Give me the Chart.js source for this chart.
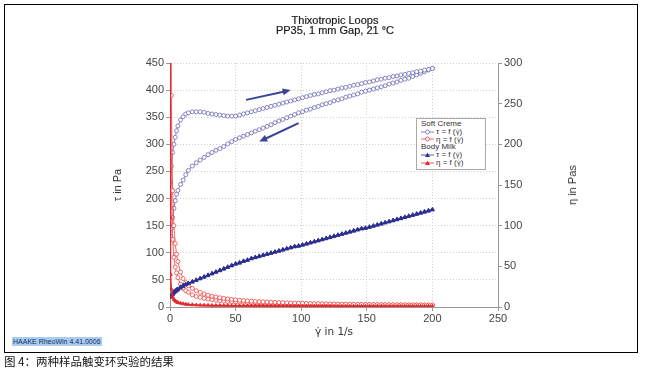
<!DOCTYPE html>
<html>
<head>
<meta charset="utf-8">
<script src="https://cdn.jsdelivr.net/npm/chart.js@4.4.1/dist/chart.umd.min.js"></script>
<style>
  body { margin: 0; width: 647px; height: 369px; position: relative; background: #fff; font-family: "Liberation Sans", Arial, sans-serif; overflow: hidden; }
  #frame { position: absolute; left: 4px; top: 4px; width: 634px; height: 349px; border: 1px solid #000; box-sizing: border-box; }
  #box { position: absolute; left: 0; top: 0; width: 647px; height: 369px; }
  #title { position: absolute; left: 235px; top: 15px; width: 200px; text-align: center; font-size: 11px; line-height: 10px; color: #1a1a1a; -webkit-text-stroke: 0.2px #1a1a1a; }
  #ytitle2 { position: absolute; left: 572px; top: 185px; font-size: 11px; color: #333; white-space: nowrap; transform: translate(-50%, -50%) rotate(-90deg); }
  #legend { position: absolute; left: 416px; top: 118px; width: 70px; height: 52px; border: 1px solid #aaa; box-sizing: border-box; background: #fff; font-size: 8px; line-height: 7.8px; color: #333; padding: 1px 0 0 4px; }
  #legend div { white-space: nowrap; height: 7.8px; }
  #legend .g { font-family: "DejaVu Sans", sans-serif; font-size: 7px; }
  #legend svg { vertical-align: middle; margin-right: 2px; }
  #haake { position: absolute; left: 12px; top: 337px; font-size: 7px; line-height: 9px; background: #a9cdf0; color: #1a2a5a; padding: 0 1px; }
  #caption { position: absolute; left: 4px; top: 354px; font-size: 11.5px; line-height: 14px; color: #111; font-family: "Noto Sans CJK SC", sans-serif; }
</style>
</head>
<body>
<div id="frame"></div>
<div id="box"><canvas id="c"></canvas></div>
<div id="title">Thixotropic Loops<br>PP35, 1 mm Gap, 21 °C</div>
<div id="ytitle2">η in Pas</div>
<div id="legend">
  <div>Soft Creme</div>
  <div><svg width="13" height="6"><line x1="0" y1="3" x2="13" y2="3" stroke="#6a6ab5" stroke-width="0.8"/><circle cx="6.5" cy="3" r="2" fill="#fff" stroke="#6a6ab5" stroke-width="0.8"/></svg>τ = f (<span class="g">γ̇</span>)</div>
  <div><svg width="13" height="6"><line x1="0" y1="3" x2="13" y2="3" stroke="#ee4444" stroke-width="0.8"/><circle cx="6.5" cy="3" r="2" fill="#fff" stroke="#ee4444" stroke-width="0.8"/></svg>η = f (<span class="g">γ̇</span>)</div>
  <div>Body Milk</div>
  <div><svg width="13" height="6"><line x1="0" y1="3" x2="13" y2="3" stroke="#2d2f8e" stroke-width="0.8"/><polygon points="6.5,0.5 9,5 4,5" fill="#2d2f8e"/></svg>τ = f (<span class="g">γ̇</span>)</div>
  <div><svg width="13" height="6"><line x1="0" y1="3" x2="13" y2="3" stroke="#e8262b" stroke-width="0.8"/><polygon points="6.5,0.5 9,5 4,5" fill="#e8262b"/></svg>η = f (<span class="g">γ̇</span>)</div>
</div>
<div id="haake">HAAKE RheoWin 4.41.0006</div>
<div id="caption">图 4：两种样品触变环实验的结果</div>

<script>
// shear rate grid (1/s)
const gamma = [0.5, 1, 2, 3, 4, 5, 6, 8, 10, 12, 14,
  17, 20, 23, 26, 29, 32, 35, 38, 41, 44, 47,
  50, 53, 56, 59, 62, 65, 68, 71, 74, 77, 80,
  83, 86, 89, 92, 95, 98, 101, 104, 107, 110, 113,
  116, 119, 122, 125, 128, 131, 134, 137, 140, 143, 146,
  149, 152, 155, 158, 161, 164, 167, 170, 173, 176, 179,
  182, 185, 188, 191, 194, 197, 200];
// extra points very close to zero shear for the viscosity curves
const gammaNearZero = [0.05, 0.2];

// Soft Creme, shear stress (Pa)
const softTauUp = [230, 260, 285, 300, 313, 325, 334, 345, 351, 356, 358,
  360, 360, 360, 359, 357, 356, 355, 354, 353, 352, 352,
  352, 354, 356, 358, 360, 362, 364, 366, 368, 370, 372,
  374, 376, 378, 380, 382, 384, 386, 388, 390, 392, 393,
  395, 397, 399, 400, 402, 404, 405, 407, 409, 410, 412,
  414, 415, 417, 419, 420, 422, 423, 425, 426, 428, 429,
  431, 432, 434, 435, 437, 438, 440];
const softTauDown = [130, 145, 165, 182, 196, 208, 215, 226, 234, 244, 252,
  260, 266, 271, 276, 281, 285, 289, 292, 296, 301, 305,
  309, 312, 315, 318, 321, 324, 327, 330, 333, 336, 340,
  343, 346, 349, 352, 355, 358, 360, 363, 365, 368, 370,
  373, 375, 377, 380, 382, 384, 387, 389, 391, 393, 396,
  398, 400, 402, 404, 406, 408, 411, 413, 415, 418, 420,
  422, 425, 428, 431, 434, 437, 440];
// Soft Creme, viscosity (Pas), first two values belong to gammaNearZero
const softEtaUp = [2000, 1000,
  460, 260, 143, 100, 78, 65, 56, 43, 35, 30, 26,
  23, 20, 18, 16, 14.5, 13.3, 12.3, 11.4, 10.6, 9.9, 9.3,
  8.8, 8.3, 7.9, 7.5, 7.2, 6.9, 6.6, 6.3, 6.1, 5.9, 5.7,
  5.5, 5.3, 5.1, 5.0, 4.8, 4.7, 4.6, 4.4, 4.3, 4.2, 4.1,
  4.0, 3.9, 3.8, 3.7, 3.6, 3.5, 3.5, 3.4, 3.3, 3.3, 3.2,
  3.1, 3.1, 3.0, 3.0, 2.9, 2.9, 2.8, 2.8, 2.7, 2.7, 2.7,
  2.6, 2.6, 2.5, 2.5, 2.5, 2.4, 2.4];
const softEtaDown = [2000, 600,
  260, 145, 83, 61, 49, 42, 36, 28, 23, 20, 18,
  15, 13, 11.8, 10.6, 9.7, 8.9, 8.3, 7.7, 7.2, 6.8, 6.5,
  6.2, 5.9, 5.6, 5.4, 5.2, 5.0, 4.8, 4.6, 4.5, 4.4, 4.2,
  4.1, 4.0, 3.9, 3.8, 3.7, 3.7, 3.6, 3.5, 3.4, 3.3, 3.3,
  3.2, 3.2, 3.1, 3.0, 3.0, 2.9, 2.9, 2.8, 2.8, 2.8, 2.7,
  2.7, 2.6, 2.6, 2.6, 2.5, 2.5, 2.5, 2.4, 2.4, 2.4, 2.3,
  2.3, 2.3, 2.3, 2.3, 2.2, 2.2, 2.2];

// Body Milk, shear stress (Pa)
const milkTauUp = [20, 22, 25, 28, 30, 32, 33, 37, 40, 42, 44,
  47, 50, 53, 56, 59, 62, 65, 68, 71, 74, 77,
  80, 82, 85, 87, 90, 92, 94, 96, 98, 100, 102,
  104, 106, 108, 110, 112, 113, 115, 117, 119, 121, 123,
  125, 127, 129, 131, 133, 135, 137, 139, 141, 143, 145,
  146, 148, 150, 152, 154, 156, 158, 160, 162, 164, 166,
  168, 170, 172, 174, 176, 178, 180];
const milkTauDown = [18, 20, 23, 26, 28, 30, 32, 35, 38, 41, 43,
  46, 49, 52, 55, 58, 61, 64, 67, 70, 73, 76,
  79, 81, 84, 86, 89, 91, 93, 95, 97, 99, 101,
  103, 105, 107, 109, 111, 112, 114, 116, 118, 120, 122,
  124, 126, 128, 130, 132, 134, 136, 138, 140, 142, 144,
  145, 147, 149, 151, 153, 155, 157, 159, 161, 163, 165,
  167, 169, 171, 173, 175, 177, 179];
// Body Milk, viscosity (Pas), first two values belong to gammaNearZero
const milkEta = [1500, 110,
  40, 22, 12.5, 9.3, 7.5, 6.4, 5.5, 4.6, 4.0, 3.5, 3.1,
  2.8, 2.5, 2.3, 2.2, 2.0, 1.9, 1.9, 1.8, 1.7, 1.7, 1.6,
  1.6, 1.5, 1.5, 1.5, 1.4, 1.4, 1.4, 1.4, 1.3, 1.3, 1.3,
  1.3, 1.2, 1.2, 1.2, 1.2, 1.2, 1.1, 1.1, 1.1, 1.1, 1.1,
  1.1, 1.1, 1.1, 1.0, 1.0, 1.0, 1.0, 1.0, 1.0, 1.0, 1.0,
  1.0, 1.0, 1.0, 1.0, 1.0, 0.9, 0.9, 0.9, 0.9, 0.9, 0.9,
  0.9, 0.9, 0.9, 0.9, 0.9, 0.9, 0.9];

// direction arrows (gamma, tau)
const arrowFrom = [[58, 382], [98, 339]];
const arrowTo = [[92, 400], [68, 305]];

const xTicks = [0, 50, 100, 150, 200, 250];

function pts(xs, ys) {
  return ys.map((y, i) => ({ x: xs[i], y: y }));
}
const gammaEta = gammaNearZero.concat(gamma);

const softBlue = '#6a6ab5';
const softRed = '#ee4444';
const milkBlue = '#2d2f8e';
const milkRed = '#e8262b';

function series(data, color, axis, style, filled, r, lw) {
  return {
    data: data,
    yAxisID: axis,
    showLine: true,
    borderColor: color,
    borderWidth: lw,
    pointStyle: style,
    pointRadius: r,
    pointBorderWidth: 0.8,
    pointBorderColor: color,
    pointBackgroundColor: filled ? color : '#fff',
    clip: 0
  };
}

const arrowPlugin = {
  id: 'arrows',
  afterDatasetsDraw(chart) {
    const ctx = chart.ctx, x = chart.scales.x, y = chart.scales.y;
    ctx.save();
    ctx.strokeStyle = '#3e4296';
    ctx.fillStyle = '#3e4296';
    ctx.lineWidth = 2;
    for (let i = 0; i < arrowFrom.length; i++) {
      const x1 = x.getPixelForValue(arrowFrom[i][0]), y1 = y.getPixelForValue(arrowFrom[i][1]);
      const x2 = x.getPixelForValue(arrowTo[i][0]), y2 = y.getPixelForValue(arrowTo[i][1]);
      const a = Math.atan2(y2 - y1, x2 - x1);
      ctx.beginPath();
      ctx.moveTo(x1, y1);
      ctx.lineTo(x2 - 5 * Math.cos(a), y2 - 5 * Math.sin(a));
      ctx.stroke();
      ctx.beginPath();
      ctx.moveTo(x2, y2);
      ctx.lineTo(x2 - 8 * Math.cos(a) + 3.5 * Math.sin(a), y2 - 8 * Math.sin(a) - 3.5 * Math.cos(a));
      ctx.lineTo(x2 - 8 * Math.cos(a) - 3.5 * Math.sin(a), y2 - 8 * Math.sin(a) + 3.5 * Math.cos(a));
      ctx.closePath();
      ctx.fill();
    }
    ctx.restore();
  }
};

const tickFont = { family: 'Liberation Sans, Arial', size: 11 };

new Chart(document.getElementById('c'), {
  type: 'scatter',
  data: {
    datasets: [
      series(pts(gammaEta, milkEta), milkRed, 'y2', 'triangle', true, 2, 1.5),
      series(pts(gamma, milkTauUp), milkBlue, 'y', 'triangle', true, 2.2, 1),
      series(pts(gamma, milkTauDown), milkBlue, 'y', 'triangle', true, 2.2, 1),
      series(pts(gammaEta, softEtaUp), softRed, 'y2', 'circle', false, 2, 0.8),
      series(pts(gammaEta, softEtaDown), softRed, 'y2', 'circle', false, 2, 0.8),
      series(pts(gamma, softTauUp), softBlue, 'y', 'circle', false, 2, 0.8),
      series(pts(gamma, softTauDown), softBlue, 'y', 'circle', false, 2, 0.8)
    ]
  },
  options: {
    responsive: true,
    maintainAspectRatio: false,
    animation: false,
    layout: { padding: { left: 111, right: 69, top: 63, bottom: 30 } },
    plugins: { legend: { display: false }, tooltip: { enabled: false } },
    scales: {
      x: {
        type: 'linear', min: 0, max: 250,
        afterBuildTicks: s => { s.ticks = xTicks.map(v => ({ value: v })); },
        afterFit: s => { s.height = 32; },
        ticks: { font: tickFont, color: '#444', padding: 1, maxRotation: 0 },
        grid: { color: '#cfcfcf', tickLength: 4, tickColor: '#999' },
        border: { color: '#999', dash: [1, 2] },
        title: { display: true, text: 'γ̇ in 1/s', font: { family: 'DejaVu Sans', size: 10.5 }, color: '#333', padding: 0 }
      },
      y: {
        position: 'left', min: 0, max: 450,
        afterFit: s => { s.width = 59; },
        ticks: { stepSize: 50, font: tickFont, color: '#444', padding: 2 },
        grid: { color: '#cfcfcf', tickLength: 4, tickColor: '#999' },
        border: { color: '#999', dash: [1, 2] },
        title: { display: true, text: 'τ in Pa', font: tickFont, color: '#333', padding: 0 }
      },
      y2: {
        position: 'right', min: 0, max: 300,
        afterFit: s => { s.width = 80; },
        ticks: { stepSize: 50, font: tickFont, color: '#444', padding: 2 },
        grid: { drawOnChartArea: false, tickLength: 4, tickColor: '#999' },
        border: { color: '#999' }
      }
    }
  },
  plugins: [arrowPlugin]
});
</script>
</body>
</html>
